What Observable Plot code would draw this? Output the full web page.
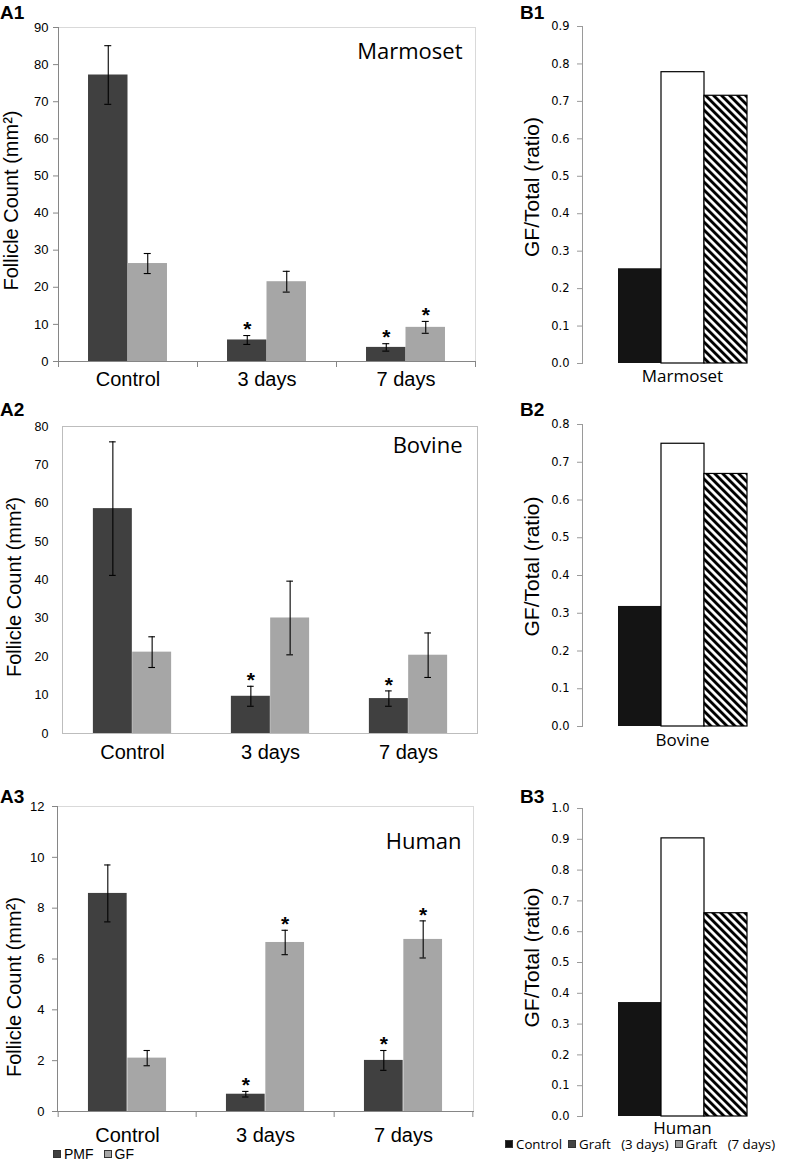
<!DOCTYPE html>
<html>
<head>
<meta charset="utf-8">
<script src="https://cdn.jsdelivr.net/npm/d3@7"></script>
<script src="https://cdn.jsdelivr.net/npm/@observablehq/plot@0.6"></script>
<style>
  html, body { margin: 0; padding: 0; background: #fff; }
  #root { position: relative; width: 787px; height: 1161px; overflow: hidden; font-family: "Liberation Sans", Arial, sans-serif; }
  .panel { position: absolute; }
  .plabel { position: absolute; font: bold 19px "Liberation Sans", Arial, sans-serif; color: #000; line-height: 1; }
  .legend { position: absolute; white-space: pre; color: #000; display: flex; align-items: center; }
  .sw { display: inline-block; width: 8px; height: 8px; margin-right: 3px; box-sizing: border-box; }
</style>
</head>
<body>
<svg width="0" height="0" style="position:absolute">
  <defs>
    <pattern id="hatch" patternUnits="userSpaceOnUse" width="5.66" height="5.66" patternTransform="rotate(-45)">
      <rect width="5.66" height="5.66" fill="#fff"></rect>
      <rect width="2.9" height="5.66" fill="#000"></rect>
    </pattern>
  </defs>
</svg>
<div id="root"></div>
<script>
// ---------- data ----------
const categories = ["Control", "3 days", "7 days"];
const series = ["PMF", "GF"];

const marmosetPMF = [77.2, 5.8, 3.8];
const marmosetPMFErr = [7.9, 1.2, 1.0];
const marmosetGF = [26.4, 21.5, 9.2];
const marmosetGFErr = [2.7, 2.8, 1.6];
const marmosetPMFSig = [false, true, true];
const marmosetGFSig = [false, false, true];

const bovinePMF = [58.6, 9.7, 9.1];
const bovinePMFErr = [17.4, 2.6, 2.0];
const bovineGF = [21.2, 30.1, 20.4];
const bovineGFErr = [4.0, 9.6, 5.8];
const bovinePMFSig = [false, true, true];
const bovineGFSig = [false, false, false];

const humanPMF = [8.58, 0.68, 2.01];
const humanPMFErr = [1.12, 0.11, 0.39];
const humanGF = [2.10, 6.65, 6.77];
const humanGFErr = [0.30, 0.48, 0.73];
const humanPMFSig = [false, true, true];
const humanGFSig = [false, true, true];

const ratioGroups = ["Control", "Graft (3 days)", "Graft (7 days)"];
const marmosetRatio = [0.253, 0.778, 0.715];
const bovineRatio = [0.318, 0.749, 0.669];
const humanRatio = [0.370, 0.903, 0.660];

const a1Ticks = [0, 10, 20, 30, 40, 50, 60, 70, 80, 90];
const a2Ticks = [0, 10, 20, 30, 40, 50, 60, 70, 80];
const a3Ticks = [0, 2, 4, 6, 8, 10, 12];
const b1Ticks = [0, 0.1, 0.2, 0.3, 0.4, 0.5, 0.6, 0.7, 0.8, 0.9];
const b2Ticks = [0, 0.1, 0.2, 0.3, 0.4, 0.5, 0.6, 0.7, 0.8];
const b3Ticks = [0, 0.1, 0.2, 0.3, 0.4, 0.5, 0.6, 0.7, 0.8, 0.9, 1.0];

const yLabelA = "Follicle Count (mm²)";
const yLabelB = "GF/Total (ratio)";
const ratioLegend = ["Control", "Graft   (3 days)", "Graft   (7 days)"];

// ---------- styles ----------
const ARIAL = "Liberation Sans, Arial, sans-serif";
const OPEN = "Open Sans, sans-serif";
const seriesColor = {PMF: "#404040", GF: "#a6a6a6"};
const ratioFill = ["#141414", "#ffffff", "url(#hatch)"];
const ratioStroke = ["none", "#000", "#000"];
const ratioLegendColor = ["#111", "#444", "#999"];

const root = document.getElementById("root");

function place(el, left, top) {
  el.classList.add("panel");
  el.style.left = left + "px";
  el.style.top = top + "px";
  root.appendChild(el);
}

function panelA(o) {
  const rows = series.map(s => categories.map((c, i) => ({
    cat: c, s,
    v: o[s][i], e: o[s + "Err"][i], sig: o[s + "Sig"][i]
  })));
  const band = (o.width - o.ml - o.mr) / categories.length;
  const barW = band * 0.284;
  const inset = (band - barW) / 2;
  const capInset = (band - 7) / 2;
  const off = {PMF: -barW / 2, GF: barW / 2};
  const marks = [];
  marks.push(Plot.frame({stroke: o.style === "box" ? "#bdbdbd" : "#d9d9d9"}));
  series.forEach((s, k) => {
    const d = rows[k];
    marks.push(Plot.barY(d, {x: "cat", y: "v", fill: seriesColor[s], insetLeft: inset, insetRight: inset, dx: off[s]}));
  });
  if (o.style !== "box") {
    marks.push(Plot.frame({anchor: "left", stroke: "#868686"}));
    marks.push(Plot.frame({anchor: "bottom", stroke: "#868686"}));
    marks.push(Plot.axisX({tickSize: 6, tickFormat: () => "", stroke: "#868686", dx: -band / 2, label: null}));
    marks.push(Plot.axisX({ticks: [categories[categories.length - 1]], tickSize: 6, tickFormat: () => "", stroke: "#868686", dx: band / 2, label: null}));
  }
  series.forEach((s, k) => {
    const d = rows[k];
    marks.push(Plot.ruleX(d, {x: "cat", y1: r => r.v - r.e, y2: r => r.v + r.e, stroke: "#000", strokeWidth: 1.1, dx: off[s]}));
    marks.push(Plot.tickY(d, {x: "cat", y: r => r.v + r.e, stroke: "#000", strokeWidth: 1.1, insetLeft: capInset, insetRight: capInset, dx: off[s]}));
    marks.push(Plot.tickY(d, {x: "cat", y: r => r.v - r.e, stroke: "#000", strokeWidth: 1.1, insetLeft: capInset, insetRight: capInset, dx: off[s]}));
    marks.push(Plot.text(d.filter(r => r.sig), {x: "cat", y: r => r.v + r.e, text: () => "*", dx: off[s], dy: -6, fontSize: 21, fontWeight: "bold", fontFamily: ARIAL, fill: "#000"}));
  });
  marks.push(Plot.axisY({ticks: o.ticks, tickSize: o.style === "box" ? 0 : 5, tickPadding: o.tickPadding, stroke: "#868686", fontSize: o.tickFont, fontFamily: ARIAL, fill: "#000", label: null}));
  marks.push(Plot.axisX({tickSize: 0, tickPadding: o.catPad, fontSize: 20, fontFamily: ARIAL, fill: "#000", label: null}));
  marks.push(Plot.text([yLabelA], {frameAnchor: "left", text: d => d, textAnchor: "middle", rotate: -90, dx: o.labelDx, dy: o.labelDy, fontSize: 20, fontFamily: ARIAL, fill: "#000"}));
  marks.push(Plot.text([o.species], {frameAnchor: "top-right", text: d => d, textAnchor: "end", lineAnchor: "top", dx: o.titleDx, dy: o.titleDy, fontSize: 22, fontFamily: OPEN, fill: "#000"}));
  const svg = Plot.plot({
    width: o.width, height: o.height,
    marginLeft: o.ml, marginRight: o.mr, marginTop: o.mt, marginBottom: o.mb,
    x: {domain: categories, padding: 0, axis: null},
    y: {domain: [0, o.ticks[o.ticks.length - 1]], axis: null},
    style: {background: "transparent", overflow: "visible"},
    marks
  });
  place(svg, o.left, o.top);
}

function panelB(o) {
  const rows = ratioGroups.map((g, i) => ({g, v: o.values[i], i}));
  const marks = [];
  rows.forEach(r => {
    marks.push(Plot.barY([r], {x: "g", y: "v", fill: ratioFill[r.i], stroke: ratioStroke[r.i], strokeWidth: 1.2}));
  });
  marks.push(Plot.frame({anchor: "left", stroke: "#9a9a9a"}));
  marks.push(Plot.axisY({ticks: o.ticks, tickFormat: d3.format(".1f"), tickSize: 5, tickPadding: 8, stroke: "#9a9a9a", fontSize: 11.5, fontFamily: "DejaVu Sans, sans-serif", fill: "#000", label: null}));
  marks.push(Plot.text([yLabelB], {frameAnchor: "left", text: d => d, textAnchor: "middle", rotate: -90, dx: -50, dy: o.labelDy, fontSize: 21, fontFamily: ARIAL, fill: "#000"}));
  marks.push(Plot.text([o.species], {frameAnchor: "bottom", text: d => d, lineAnchor: "top", dy: o.speciesDy, fontSize: 17, fontFamily: OPEN, fill: "#000"}));
  const svg = Plot.plot({
    width: 267, height: o.height,
    marginLeft: 62, marginRight: 5, marginTop: o.mt, marginBottom: o.mb,
    x: {domain: ratioGroups, paddingInner: 0, paddingOuter: 0.78, axis: null},
    y: {domain: [0, o.ticks[o.ticks.length - 1]], axis: null},
    style: {background: "transparent", overflow: "visible"},
    marks
  });
  place(svg, 520, o.top);
}

panelA({species: "Marmoset", PMF: marmosetPMF, PMFErr: marmosetPMFErr, GF: marmosetGF, GFErr: marmosetGFErr,
  PMFSig: marmosetPMFSig, GFSig: marmosetGFSig, ticks: a1Ticks,
  left: 0, top: 0, width: 500, height: 390, ml: 58, mr: 25, mt: 27, mb: 29,
  style: "axes", tickPadding: 5, tickFont: 13, catPad: 10, labelDx: -47, labelDy: 6, titleDx: -13, titleDy: 16});
panelA({species: "Bovine", PMF: bovinePMF, PMFErr: bovinePMFErr, GF: bovineGF, GFErr: bovineGFErr,
  PMFSig: bovinePMFSig, GFSig: bovineGFSig, ticks: a2Ticks,
  left: 0, top: 385, width: 500, height: 380, ml: 62, mr: 23, mt: 41, mb: 32,
  style: "box", tickPadding: 14, tickFont: 12.5, catPad: 11, labelDx: -48, labelDy: 7, titleDx: -15, titleDy: 11});
panelA({species: "Human", PMF: humanPMF, PMFErr: humanPMFErr, GF: humanGF, GFErr: humanGFErr,
  PMFSig: humanPMFSig, GFSig: humanGFSig, ticks: a3Ticks,
  left: 0, top: 770, width: 500, height: 370, ml: 57, mr: 27, mt: 36, mb: 29,
  style: "axes", tickPadding: 8, tickFont: 13, catPad: 16, labelDx: -43, labelDy: 28, titleDx: -12, titleDy: 27});

panelB({species: "Marmoset", values: marmosetRatio, ticks: b1Ticks, top: 0, height: 390, mt: 26, mb: 27, labelDy: -8, speciesDy: 6});
panelB({species: "Bovine", values: bovineRatio, ticks: b2Ticks, top: 385, height: 380, mt: 39, mb: 39, labelDy: -9, speciesDy: 7});
panelB({species: "Human", values: humanRatio, ticks: b3Ticks, top: 770, height: 370, mt: 38, mb: 24, labelDy: -5, speciesDy: 5});

// ---------- panel labels ----------
const labels = [["A1", 0, 3], ["A2", 0, 400], ["A3", 0, 787], ["B1", 520, 3], ["B2", 520, 400], ["B3", 520, 787]];
labels.forEach(([t, x, y]) => {
  const d = document.createElement("div");
  d.className = "plabel";
  d.textContent = t;
  d.style.left = x + "px";
  d.style.top = y + "px";
  root.appendChild(d);
});

// ---------- legends ----------
function legend(items, left, top, font, gap) {
  const d = document.createElement("div");
  d.className = "legend";
  d.style.left = left + "px";
  d.style.top = top + "px";
  d.style.font = font;
  items.forEach(([text, color], i) => {
    const sw = document.createElement("span");
    sw.className = "sw";
    sw.style.background = color;
    sw.style.border = "1px solid #333";
    if (i > 0) sw.style.marginLeft = gap + "px";
    d.appendChild(sw);
    const t = document.createElement("span");
    t.textContent = text;
    d.appendChild(t);
  });
  root.appendChild(d);
}
legend(series.map(s => [s, seriesColor[s]]), 53, 1146, "14px Liberation Sans, Arial, sans-serif", 10);
legend(ratioLegend.map((t, i) => [t, ratioLegendColor[i]]), 505, 1135, "13.3px Open Sans, sans-serif", 6);
</script>
</body>
</html>
